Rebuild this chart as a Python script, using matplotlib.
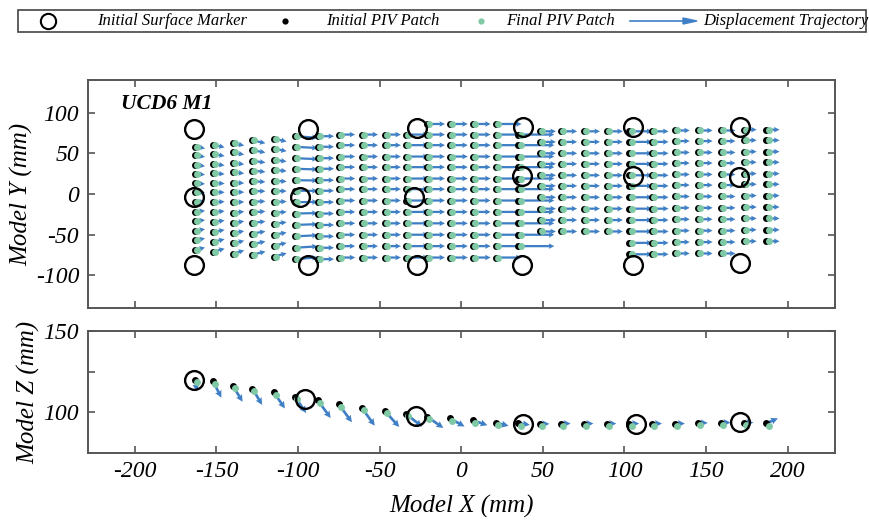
import matplotlib
matplotlib.use("Agg")
import numpy as np
import matplotlib.pyplot as plt
from matplotlib.lines import Line2D
from matplotlib.patches import Rectangle

plt.rcParams['font.family'] = ['Liberation Serif', 'DejaVu Serif']
plt.rcParams['font.style'] = 'italic'
plt.rcParams['axes.unicode_minus'] = False

# surface markers (mm)
marker_x = [-164, -164, -164, -94, -99, -94, -27, -29, -27, 38, 37, 37, 105, 105, 105, 171, 170, 171]
marker_y = [80, -4, -87, 80, -4, -87, 81, -4, -87, 82, 22, -87, 82, 22, -87, 82, 21, -85]
marker_zx = [-164, -96, -28, 38, 107, 171]
marker_z = [120, 108, 98, 93, 93, 94]

# PIV patch columns
piv_x = [-163, -152, -140, -128, -115, -102, -88, -75, -61, -47, -34, -21, -7, 7,
         21, 35, 48, 61, 75, 89, 103, 117, 131, 145, 159, 173, 187]
piv_rows = [86, 73, 60, 46, 33, 19, 6, -8, -22, -36, -50, -64, -78]
row_from = [1, 1, 1, 1, 1, 1, 1, 1, 1, 1, 1, 0, 0, 0, 0, 1, 1, 1, 1, 1, 1, 1, 1, 1, 1, 1, 1]
row_to = [12, 12, 12, 12, 12, 12, 12, 12, 12, 12, 12, 12, 12, 12, 12, 11, 10, 10, 10, 10,
          12, 12, 12, 12, 12, 11, 11]
col_scale = [0.84, 0.87, 0.9, 0.93, 0.96, 1, 1, 1, 1, 1, 1, 1, 1, 1, 1, 1, 1, 1, 1, 1,
             1, 1, 1, 1, 1, 1, 1]
col_shift = [-3, -3, -3, -2, -2, -2, -2, 0, 0, 0, 0, 0, 0, 0, 0, 0, 4, 4, 4, 4, 4, 4, 5, 5, 5, 6, 6]
# displacement in map view (mm)
map_dx = [6, 7, 7, 8, 8, 14, 10, 10, 10, 10, 14, 11, 11, 11, 16, 22, 10, 10, 10, 10,
          14, 10, 9, 9, 9, 8, 8]
map_squeeze = [3, 4, 4, 4, 4, 2, 0, 0, 0, 0, 0, 0, 0, 0, 0, 0, 0, 0, 0, 0, 0, 0, 0, 0, 0, 0, 0]

# PIV patches in section view
piv_z = [120, 119, 116.5, 114.6, 112.4, 109.6, 107.5, 104.9, 102.8, 101, 99.2, 97.4, 96.3,
         95.1, 93.7, 93.3, 92.9, 93.1, 93.1, 93.1, 93.1, 93.1, 93.1, 93.5, 93.7, 93.7, 93.3]
sec_dx = [1, 5, 6, 6, 7, 7, 8, 8, 8, 9, 10, 10, 9, 9, 8, 7, 6, 6, 6, 6, 6, 6, 6, 6, 6, 6, 7]
sec_dz = [-7, -10, -10, -10, -10, -10, -11, -11, -11, -10, -8, -7, -5, -3, -2, -1, 0, 0, 0, 0,
          0, 0, 0, 0, 0, 0, 3]

blue = '#3f7fc6'
green = '#7fc9a4'
spine = '#555555'

# build map-view patch table
px, py, pu, pv = [], [], [], []
for i, x in enumerate(piv_x):
    for r in piv_rows[row_from[i]:row_to[i] + 1]:
        y = r * col_scale[i] + col_shift[i]
        px.append(x)
        py.append(y)
        pu.append(map_dx[i])
        pv.append(-map_squeeze[i] * y / 75)
px, py, pu, pv = map(np.array, (px, py, pu, pv))

fig = plt.figure(figsize=(8.7, 5.25), dpi=100)
ax1 = fig.add_axes([0.1006, 0.4133, 0.8592, 0.4343])
ax2 = fig.add_axes([0.1006, 0.1371, 0.8592, 0.2324])

ax1.quiver(px, py, pu, pv, angles='xy', scale_units='xy', scale=1, color=blue,
           width=0.003, headwidth=2.5, headlength=2.5, headaxislength=2.2, zorder=2)
ax1.plot(px, py, 'o', color='black', ms=5, mec='none', zorder=3)
ax1.plot(px + 1.3, py, 'o', color=green, ms=5, mec='none', zorder=4)
ax1.plot(marker_x, marker_y, 'o', mfc='none', mec='black', ms=13.5, mew=1.7, zorder=5)
ax1.text(0.045, 0.94, 'UCD6 M1', transform=ax1.transAxes, fontsize=15.5,
         fontweight='bold', ha='left', va='top')

sx = np.array(piv_x)
sz = np.array(piv_z)
ax2.quiver(sx, sz, sec_dx, sec_dz, angles='xy', scale_units='xy', scale=1, color=blue,
           width=0.0036, headwidth=2.6, headlength=2.6, headaxislength=2.3, zorder=2)
ax2.plot(sx, sz, 'o', color='black', ms=5, mec='none', zorder=3)
ax2.plot(sx + 1.3, sz - 1.5, 'o', color=green, ms=5, mec='none', zorder=4)
ax2.plot(marker_zx, marker_z, 'o', mfc='none', mec='black', ms=13.5, mew=1.7, zorder=5)

for ax in (ax1, ax2):
    ax.set_xlim(-229, 229)
    ax.set_xticks([-200, -150, -100, -50, 0, 50, 100, 150, 200])
    ax.tick_params(direction='in', top=True, right=True, length=5, width=1.2,
                   color=spine, labelsize=17, pad=6)
    for s in ax.spines.values():
        s.set_color(spine)
        s.set_linewidth(1.4)

ax1.set_ylim(-140, 140)
ax1.set_yticks([-100, -50, 0, 50, 100])
ax1.tick_params(labelbottom=False)
ax1.set_ylabel('Model Y (mm)', fontsize=18, labelpad=2)

ax2.set_ylim(75, 150)
ax2.set_yticks([100, 125, 150])
ax2.set_yticklabels(['100', '', '150'])
ax2.set_ylabel('Model Z (mm)', fontsize=18, labelpad=2)
ax2.set_xlabel('Model X (mm)', fontsize=18, labelpad=9)

# legend strip across the top
fig.add_artist(Rectangle((18 / 870, 1 - 32 / 525), 848 / 870, 22 / 525, transform=fig.transFigure,
                         fill=False, edgecolor='#444444', linewidth=1.2))
ly = 1 - 21 / 525
fig.add_artist(Line2D([48 / 870], [ly], marker='o', mfc='none', mec='black', ms=11, mew=1.5))
fig.text(97 / 870, ly, 'Initial Surface Marker', fontsize=12, va='center')
fig.add_artist(Line2D([285 / 870], [ly], marker='o', color='black', mec='none', ms=4.5))
fig.text(326 / 870, ly, 'Initial PIV Patch', fontsize=12, va='center')
fig.add_artist(Line2D([481 / 870], [ly], marker='o', color=green, mec='none', ms=4.5))
fig.text(506 / 870, ly, 'Final PIV Patch', fontsize=12, va='center')
fig.add_artist(Line2D([630 / 870, 690 / 870], [ly, ly], color=blue, lw=1.2))
fig.patches.append(plt.Polygon([[683 / 870, ly + 3 / 525], [697 / 870, ly], [683 / 870, ly - 3 / 525]],
                               closed=True, color=blue, transform=fig.transFigure))
fig.text(703 / 870, ly, 'Displacement Trajectory', fontsize=12, va='center')

fig.savefig('out.png', dpi=100)
